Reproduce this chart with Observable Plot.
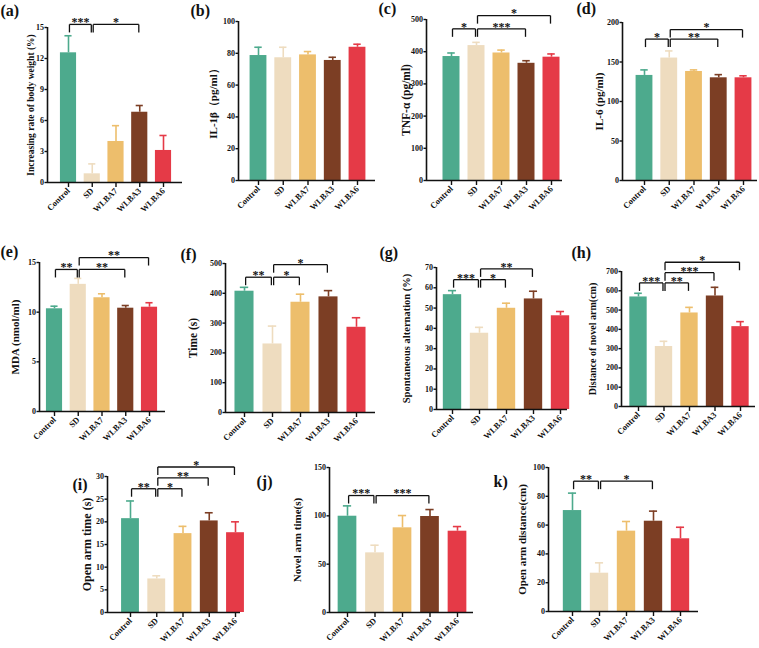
<!DOCTYPE html>
<html>
<head>
<meta charset="utf-8">
<script src="https://cdn.jsdelivr.net/npm/d3@7"></script>
<script src="https://cdn.jsdelivr.net/npm/@observablehq/plot@0.6"></script>
<style>
  body { margin: 0; background: #fff; }
  #fig { position: relative; width: 759px; height: 648px; overflow: hidden; background: #fff; }
  #fig svg { position: absolute; overflow: visible; }
</style>
</head>
<body>
<div id="fig"></div>
<script>
// Treatment groups shared by every panel
const groups = ["Control", "SD", "WLBA7", "WLBA3", "WLBA6"];
const groupColors = ["#4DAA8D", "#EEDCBF", "#EDBE6C", "#7C3E24", "#E53A47"];

// (a) body weight gain
const weightGainMean = [12.55, 0.84, 3.97, 6.8, 3.1];
const weightGainErr = [1.65, 0.96, 1.53, 0.65, 1.45];
// (b) IL-1β
const il1bMean = [78.6, 77.2, 79.0, 75.5, 83.8];
const il1bErr = [5.2, 6.6, 2.1, 2.0, 1.9];
// (c) TNF-α
const tnfMean = [385, 419, 396, 364, 383];
const tnfErr = [11, 10, 9, 8, 10];
// (d) IL-6
const il6Mean = [133, 155, 138, 130, 130];
const il6Err = [7, 9, 2, 4, 2.5];
// (e) MDA
const mdaMean = [10.34, 12.8, 11.45, 10.4, 10.5];
const mdaErr = [0.26, 0.6, 0.4, 0.27, 0.45];
// (f) time
const timeMean = [407, 230, 370, 388, 286];
const timeErr = [13, 60, 27, 21, 32];
// (g) spontaneous alternation
const altMean = [56.6, 37.6, 49.9, 54.5, 46.2];
const altErr = [2.0, 2.9, 2.5, 3.8, 2.1];
// (h) distance of novel arm
const novelDistMean = [568, 311, 485, 573, 414];
const novelDistErr = [19, 27, 29, 45, 26];
// (i) open arm time
const openTimeMean = [20.7, 7.4, 17.4, 20.2, 17.6];
const openTimeErr = [3.9, 0.7, 1.6, 1.8, 2.4];
// (j) novel arm time
const novelTimeMean = [99.6, 61.7, 87.6, 99.3, 84.1];
const novelTimeErr = [10.7, 7.9, 12.7, 7.2, 4.8];
// (k) open arm distance
const openDistMean = [70.1, 26.6, 55.8, 62.7, 50.5];
const openDistErr = [12.1, 7.2, 6.7, 7.0, 8.0];

// Significance brackets: [from group, to group, height, label]
const weightGainSig = [[0, 1, 15.3, "***"], [1, 3, 15.3, "*"]];
const tnfSig = [[0, 1, 471, "*"], [1, 3, 471, "***"], [1, 4, 512, "*"]];
const il6Sig = [[0, 1, 179, "*"], [1, 3, 179, "**"], [1, 4, 191, "*"]];
const mdaSig = [[0, 1, 14.3, "**"], [1, 3, 14.3, "**"], [1, 4, 15.5, "**"]];
const timeSig = [[0, 1, 454, "**"], [1, 2, 454, "*"], [1, 3, 496, "*"]];
const altSig = [[0, 1, 64, "***"], [1, 2, 64, "*"], [1, 3, 69.3, "**"]];
const novelDistSig = [[0, 1, 641, "***"], [1, 2, 641, "**"], [1, 3, 694, "***"], [1, 4, 748, "*"]];
const openTimeSig = [[0, 1, 27.3, "**"], [1, 2, 27.3, "*"], [1, 3, 29.7, "**"], [1, 4, 32.1, "*"]];
const novelTimeSig = [[0, 1, 121, "***"], [1, 3, 121, "***"]];
const openDistSig = [[0, 1, 90.5, "**"], [1, 3, 90.5, "*"]];

const FONT = "'Liberation Serif', 'Times New Roman', serif";

// Layout of each panel on the page: axis start/end, first/last category centre,
// pixel rows of the top tick and of zero, title offset/size and tag position.
const panels = [
  {tag: "(a)", title: "Increasing rate of body weight (%)", mean: weightGainMean, err: weightGainErr, sig: weightGainSig,
   ymax: 15, ticks: [0, 3, 6, 9, 12, 15], ax0: 47, ax1: 182, c0: 68, c4: 163, yTop: 27, y0: 182, titleDx: -17, titleSize: 9.5, tagX: 0, tagY: 4},
  {tag: "(b)", title: "IL-1β（pg/ml）", mean: il1bMean, err: il1bErr, sig: [],
   ymax: 100, ticks: [0, 20, 40, 60, 80, 100], ax0: 238, ax1: 375, c0: 258, c4: 357, yTop: 21, y0: 180, titleDx: -25, titleSize: 11, tagX: 190, tagY: 4},
  {tag: "(c)", title: "TNF-α (pg/ml)", mean: tnfMean, err: tnfErr, sig: tnfSig,
   ymax: 500, ticks: [0, 100, 200, 300, 400, 500], ax0: 426, ax1: 562, c0: 451, c4: 551, yTop: 19, y0: 180, titleDx: -20, titleSize: 11.5, tagX: 378, tagY: 2},
  {tag: "(d)", title: "IL-6 (pg/ml)", mean: il6Mean, err: il6Err, sig: il6Sig,
   ymax: 200, ticks: [0, 50, 100, 150, 200], ax0: 622, ax1: 757, c0: 644, c4: 743, yTop: 22, y0: 180, titleDx: -23, titleSize: 11, tagX: 576, tagY: 2},
  {tag: "(e)", title: "MDA (nmol/ml)", mean: mdaMean, err: mdaErr, sig: mdaSig,
   ymax: 15, ticks: [0, 5, 10, 15], ax0: 39, ax1: 165, c0: 54, c4: 149, yTop: 262, y0: 411, titleDx: -24, titleSize: 11, tagX: 0, tagY: 245},
  {tag: "(f)", title: "Time (s)", mean: timeMean, err: timeErr, sig: timeSig,
   ymax: 500, ticks: [0, 100, 200, 300, 400, 500], ax0: 225, ax1: 375, c0: 244, c4: 356, yTop: 263, y0: 412, titleDx: -32, titleSize: 11.5, tagX: 180, tagY: 248},
  {tag: "(g)", title: "Spontaneous alternation (%)", mean: altMean, err: altErr, sig: altSig,
   ymax: 70, ticks: [0, 10, 20, 30, 40, 50, 60, 70], ax0: 436, ax1: 567, c0: 452, c4: 560, yTop: 267, y0: 409, titleDx: -30, titleSize: 10.5, tagX: 379, tagY: 246},
  {tag: "(h)", title: "Distance of novel arm(cm)", mean: novelDistMean, err: novelDistErr, sig: novelDistSig,
   ymax: 700, ticks: [0, 100, 200, 300, 400, 500, 600, 700], ax0: 621, ax1: 755, c0: 638, c4: 740, yTop: 271, y0: 406, titleDx: -29, titleSize: 10, tagX: 571, tagY: 246},
  {tag: "(i)", title: "Open arm time (s)", mean: openTimeMean, err: openTimeErr, sig: openTimeSig,
   ymax: 30, ticks: [0, 5, 10, 15, 20, 25, 30], ax0: 107, ax1: 240, c0: 130, c4: 235, yTop: 476, y0: 612, titleDx: -20, titleSize: 12, tagX: 72, tagY: 478},
  {tag: "(j)", title: "Novel arm time(s)", mean: novelTimeMean, err: novelTimeErr, sig: novelTimeSig,
   ymax: 150, ticks: [0, 50, 100, 150], ax0: 329, ax1: 473, c0: 347, c4: 457, yTop: 467, y0: 612, titleDx: -32, titleSize: 11, tagX: 256, tagY: 475},
  {tag: "k)", title: "Open arm distance(cm)", mean: openDistMean, err: openDistErr, sig: openDistSig,
   ymax: 100, ticks: [0, 20, 40, 60, 80, 100], ax0: 548, ax1: 698, c0: 572, c4: 680, yTop: 467, y0: 611, titleDx: -26, titleSize: 11, tagX: 493, tagY: 475}
];

const fig = document.getElementById("fig");

function drawPanel(p) {
  const step = (p.c4 - p.c0) / 4;
  const xDomain = [(p.ax0 - p.c0) / step, (p.ax1 - p.c0) / step];
  const mL = 60, mR = 8, mT = 45, mB = 50;
  const plotH = p.y0 - p.yTop;
  const leg = 8 * p.ymax / plotH;

  const rows = groups.map((g, i) => ({
    i, g, mean: p.mean[i], top: p.mean[i] + p.err[i], color: groupColors[i]
  }));

  const brackets = p.sig.map(([from, to, level, label]) => ({
    xa: from + 0.04, xb: to - 0.04, level, label, mid: (from + to) / 2
  }));
  const segments = brackets.flatMap(b => [
    {x1: b.xa, y1: b.level, x2: b.xb, y2: b.level},
    {x1: b.xa, y1: b.level, x2: b.xa, y2: b.level - leg},
    {x1: b.xb, y1: b.level, x2: b.xb, y2: b.level - leg}
  ]);

  const chart = Plot.plot({
    width: mL + (p.ax1 - p.ax0) + mR,
    height: mT + plotH + mB,
    marginLeft: mL, marginRight: mR, marginTop: mT, marginBottom: mB,
    style: {background: "transparent", overflow: "visible", fontFamily: FONT, color: "#111"},
    x: {type: "linear", domain: xDomain, axis: null},
    y: {domain: [0, p.ymax], axis: null},
    marks: [
      Plot.rect(rows, {x1: d => d.i - 0.34, x2: d => d.i + 0.34, y1: 0, y2: "mean", fill: "color"}),
      Plot.ruleX(rows, {x: "i", y1: "mean", y2: "top", stroke: "color", strokeWidth: 1.6}),
      Plot.ruleY(rows, {y: "top", x1: d => d.i - 0.15, x2: d => d.i + 0.15, stroke: "color", strokeWidth: 1.6}),
      Plot.ruleY([0], {stroke: "#111", strokeWidth: 1.6}),
      Plot.ruleX([xDomain[0]], {y1: 0, y2: p.ymax, stroke: "#111", strokeWidth: 1.6}),
      Plot.axisY({ticks: p.ticks, tickSize: 2.5, tickPadding: 1, fontSize: 8, fontWeight: "bold", strokeWidth: 1.4, label: null}),
      Plot.axisX({ticks: [0, 1, 2, 3, 4], tickFormat: i => groups[i], tickRotate: -45, tickSize: 5, tickPadding: 2,
                  fontSize: 8.5, fontWeight: "bold", strokeWidth: 1.4, label: null}),
      Plot.link(segments, {x1: "x1", y1: "y1", x2: "x2", y2: "y2", stroke: "#111", strokeWidth: 1.3}),
      Plot.text(brackets, {x: "mid", y: "level", text: "label", dy: -2, fontSize: 12, fontWeight: "bold", fill: "#111"}),
      Plot.text([p.title], {text: d => d, frameAnchor: "left", textAnchor: "middle", rotate: -90, dx: p.titleDx,
                            fontSize: p.titleSize, fontWeight: "bold", fill: "#111"}),
      Plot.text([p.tag], {text: d => d, frameAnchor: "top-left", textAnchor: "start", lineAnchor: "top",
                          dx: p.tagX - p.ax0, dy: p.tagY - p.yTop, fontSize: 16, fontWeight: "bold", fill: "#111"})
    ]
  });
  chart.style.left = (p.ax0 - mL) + "px";
  chart.style.top = (p.yTop - mT) + "px";
  fig.appendChild(chart);
}

panels.forEach(drawPanel);
</script>
</body>
</html>
